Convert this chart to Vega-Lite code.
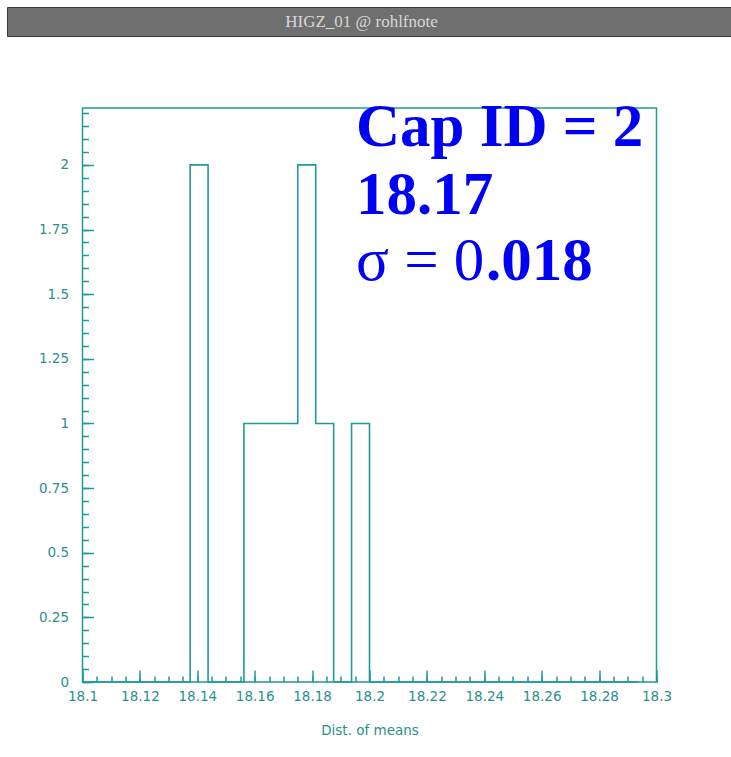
{
  "$schema": "https://vega.github.io/schema/vega-lite/v6.json",
  "background": "white",
  "padding": {"left": 6, "top": 6, "right": 0, "bottom": 12},
  "bounds": "flush",
  "center": true,
  "spacing": 72,
  "config": {"font": "DejaVu Sans"},
  "vconcat": [
    {
      "width": 725,
      "height": 29,
      "view": {"stroke": "#3a3a3a", "strokeWidth": 1, "fill": "#6f6f6f"},
      "data": {"values": [{"name": "HIGZ_01 @ rohlfnote"}]},
      "mark": {"type": "text", "font": "Liberation Serif", "fontSize": 17, "color": "#d8d8d8", "dx": -8},
      "encoding": {"text": {"field": "name"}}
    },
    {
      "width": 574,
      "height": 574,
      "view": {"stroke": "#1f9a98", "strokeWidth": 1.5},
      "data": {"values": [
        {"bin_start": 18.1, "entries": 0},
        {"bin_start": 18.10625, "entries": 0},
        {"bin_start": 18.1125, "entries": 0},
        {"bin_start": 18.11875, "entries": 0},
        {"bin_start": 18.125, "entries": 0},
        {"bin_start": 18.13125, "entries": 0},
        {"bin_start": 18.1375, "entries": 2},
        {"bin_start": 18.14375, "entries": 0},
        {"bin_start": 18.15, "entries": 0},
        {"bin_start": 18.15625, "entries": 1},
        {"bin_start": 18.1625, "entries": 1},
        {"bin_start": 18.16875, "entries": 1},
        {"bin_start": 18.175, "entries": 2},
        {"bin_start": 18.18125, "entries": 1},
        {"bin_start": 18.1875, "entries": 0},
        {"bin_start": 18.19375, "entries": 1},
        {"bin_start": 18.2, "entries": 0},
        {"bin_start": 18.20625, "entries": 0},
        {"bin_start": 18.2125, "entries": 0},
        {"bin_start": 18.21875, "entries": 0},
        {"bin_start": 18.225, "entries": 0},
        {"bin_start": 18.23125, "entries": 0},
        {"bin_start": 18.2375, "entries": 0},
        {"bin_start": 18.24375, "entries": 0},
        {"bin_start": 18.25, "entries": 0},
        {"bin_start": 18.25625, "entries": 0},
        {"bin_start": 18.2625, "entries": 0},
        {"bin_start": 18.26875, "entries": 0},
        {"bin_start": 18.275, "entries": 0},
        {"bin_start": 18.28125, "entries": 0},
        {"bin_start": 18.2875, "entries": 0},
        {"bin_start": 18.29375, "entries": 0}
      ]},
      "resolve": {"axis": {"x": "independent", "y": "independent"}},
      "layer": [
        {
          "mark": {"type": "line", "interpolate": "step-after", "color": "#1f9a98", "strokeWidth": 1.6},
          "encoding": {
            "x": {
              "field": "bin_start", "type": "quantitative",
              "scale": {"domain": [18.1, 18.3], "nice": false, "zero": false},
              "axis": {
                "orient": "bottom",
                "values": [18.1, 18.12, 18.14, 18.16, 18.18, 18.2, 18.22, 18.24, 18.26, 18.28, 18.3],
                "labelExpr": "'' + datum.value",
                "domain": false, "grid": false,
                "tickSize": -12, "tickWidth": 1.5, "tickColor": "#1f9a98",
                "labelPadding": 19, "labelFont": "DejaVu Sans", "labelFontSize": 13.5,
                "labelColor": "#2a8f8f", "labelFlush": false, "labelOverlap": false,
                "title": "Dist. of means", "titleFont": "DejaVu Sans", "titleFontSize": 13.5,
                "titleFontWeight": "normal", "titleColor": "#2a8f8f", "titlePadding": 21
              }
            },
            "y": {
              "field": "entries", "type": "quantitative",
              "scale": {"domain": [0, 2.22], "nice": false},
              "axis": {
                "orient": "left",
                "values": [0, 0.25, 0.5, 0.75, 1, 1.25, 1.5, 1.75, 2],
                "labelExpr": "'' + datum.value",
                "domain": false, "grid": false,
                "tickSize": -11, "tickWidth": 1.5, "tickColor": "#1f9a98",
                "labelPadding": 25, "labelFont": "DejaVu Sans", "labelFontSize": 13.5,
                "labelColor": "#2a8f8f", "labelFlush": false, "labelOverlap": false,
                "title": null
              }
            }
          }
        },
        {
          "mark": {"type": "line", "interpolate": "step-after", "opacity": 0},
          "encoding": {
            "x": {
              "field": "bin_start", "type": "quantitative",
              "axis": {
                "orient": "bottom",
                "values": [18.1, 18.105, 18.11, 18.115, 18.12, 18.125, 18.13, 18.135, 18.14, 18.145, 18.15, 18.155, 18.16, 18.165, 18.17, 18.175, 18.18, 18.185, 18.19, 18.195, 18.2, 18.205, 18.21, 18.215, 18.22, 18.225, 18.23, 18.235, 18.24, 18.245, 18.25, 18.255, 18.26, 18.265, 18.27, 18.275, 18.28, 18.285, 18.29, 18.295, 18.3],
                "labels": false, "domain": false, "grid": false, "title": null,
                "tickSize": -6, "tickWidth": 1.5, "tickColor": "#1f9a98"
              }
            },
            "y": {
              "field": "entries", "type": "quantitative",
              "axis": {
                "orient": "left",
                "values": [0, 0.05, 0.1, 0.15, 0.2, 0.25, 0.3, 0.35, 0.4, 0.45, 0.5, 0.55, 0.6, 0.65, 0.7, 0.75, 0.8, 0.85, 0.9, 0.95, 1, 1.05, 1.1, 1.15, 1.2, 1.25, 1.3, 1.35, 1.4, 1.45, 1.5, 1.55, 1.6, 1.65, 1.7, 1.75, 1.8, 1.85, 1.9, 1.95, 2, 2.05, 2.1, 2.15, 2.2],
                "labels": false, "domain": false, "grid": false, "title": null,
                "tickSize": -6, "tickWidth": 1.5, "tickColor": "#1f9a98"
              }
            }
          }
        },
        {
          "data": {"values": [{"t": "Cap ID = 2"}]},
          "mark": {"type": "text", "font": "Liberation Serif", "fontWeight": "bold", "fontSize": 61, "color": "#0000f5", "align": "left", "baseline": "alphabetic"},
          "encoding": {
            "x": {"datum": 18.1953, "type": "quantitative", "axis": null},
            "y": {"datum": 2.073, "type": "quantitative", "axis": null},
            "text": {"field": "t"}
          }
        },
        {
          "data": {"values": [{"t": "18.17"}]},
          "mark": {"type": "text", "font": "Liberation Serif", "fontWeight": "bold", "fontSize": 61, "color": "#0000f5", "align": "left", "baseline": "alphabetic"},
          "encoding": {
            "x": {"datum": 18.1953, "type": "quantitative", "axis": null},
            "y": {"datum": 1.81, "type": "quantitative", "axis": null},
            "text": {"field": "t"}
          }
        },
        {
          "data": {"values": [{"t": "σ = 0"}]},
          "mark": {"type": "text", "font": "Liberation Serif", "fontWeight": "normal", "fontSize": 61, "color": "#0000f5", "align": "left", "baseline": "alphabetic"},
          "encoding": {
            "x": {"datum": 18.1953, "type": "quantitative", "axis": null},
            "y": {"datum": 1.555, "type": "quantitative", "axis": null},
            "text": {"field": "t"}
          }
        },
        {
          "data": {"values": [{"t": ".018"}]},
          "mark": {"type": "text", "font": "Liberation Serif", "fontWeight": "bold", "fontSize": 61, "color": "#0000f5", "align": "left", "baseline": "alphabetic"},
          "encoding": {
            "x": {"datum": 18.2406, "type": "quantitative", "axis": null},
            "y": {"datum": 1.555, "type": "quantitative", "axis": null},
            "text": {"field": "t"}
          }
        }
      ]
    }
  ]
}
